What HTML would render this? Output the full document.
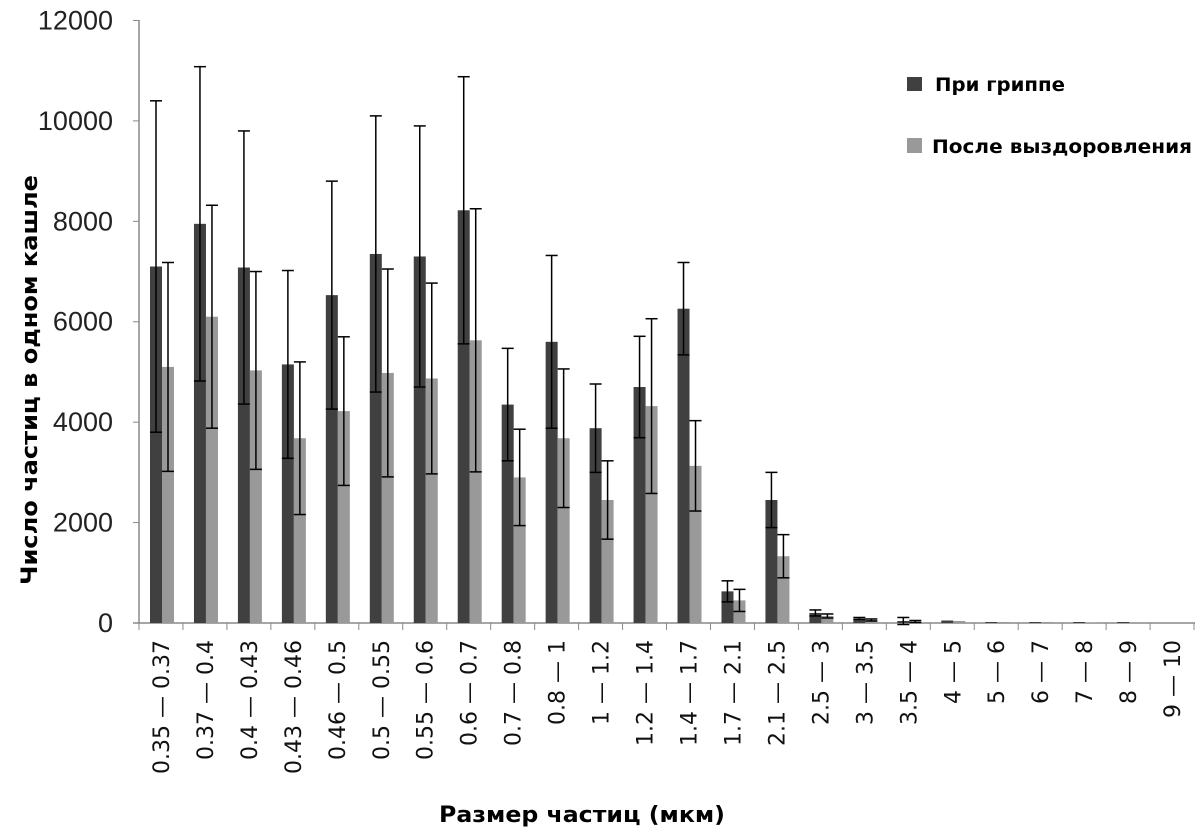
<!DOCTYPE html>
<html><head><meta charset="utf-8"><style>body{margin:0;background:#fff}svg{display:block}</style></head>
<body>
<svg id="s" width="1203" height="835" xmlns="http://www.w3.org/2000/svg" font-family="DejaVu Sans, Liberation Sans, sans-serif"></svg>
<script>
const d=[[7100,3300,5100,2080],[7950,3130,6100,2220],[7080,2720,5030,1970],[5150,1870,3680,1520],[6530,2270,4220,1480],[7350,2750,4980,2070],[7300,2600,4870,1900],[8220,2660,5630,2620],[4350,1120,2900,960],[5600,1720,3680,1380],[3880,880,2450,780],[4700,1010,4320,1740],[6260,920,3130,900],[630,210,450,220],[2450,550,1330,430],[200,60,140,40],[90,20,60,20],[40,70,30,20],[50,0,40,0],[20,0,20,0],[20,0,20,0],[20,0,10,0],[20,0,0,0],[0,0,0,0]];
const L=["0.35 — 0.37","0.37 — 0.4","0.4 — 0.43","0.43 — 0.46","0.46 — 0.5","0.5 — 0.55","0.55 — 0.6","0.6 — 0.7","0.7 — 0.8","0.8 — 1","1 — 1.2","1.2 — 1.4","1.4 — 1.7","1.7 — 2.1","2.1 — 2.5","2.5 — 3","3 — 3.5","3.5 — 4","4 — 5","5 — 6","6 — 7","7 — 8","8 — 9","9 — 10"];
const Y=v=>623-v*0.05021, x0=139, w=43.96;
let s='';
for(let i=0;i<=6;i++){let y=Y(i*2000);s+=`<line x1="133" x2="139" y1="${y}" y2="${y}" stroke="#888"/><text x="113" y="${y+9}" text-anchor="end" font-family="Liberation Sans, sans-serif" font-size="27" fill="#222">${i*2000}</text>`;}
s+=`<line x1="139" x2="139" y1="20" y2="623" stroke="#888" stroke-width="1.5"/><line x1="133" x2="1195" y1="623" y2="623" stroke="#888" stroke-width="1.5"/>`;
d.forEach((r,i)=>{let gx=x0+i*w;
 s+=`<line x1="${gx}" x2="${gx}" y1="623" y2="630" stroke="#888"/>`;
 [[r[0],r[1],gx+11,'#404040'],[r[2],r[3],gx+23,'#999']].forEach(([v,e,bx,c])=>{
  if(v>0)s+=`<rect x="${bx}" y="${Y(v)}" width="12" height="${623-Y(v)}" fill="${c}"/>`;
  if(e>0){let cx=bx+6;s+=`<g stroke="#000" stroke-width="1.5"><line x1="${cx}" x2="${cx}" y1="${Y(v+e)}" y2="${Y(v-e)}"/><line x1="${cx-6}" x2="${cx+6}" y1="${Y(v+e)}" y2="${Y(v+e)}"/><line x1="${cx-6}" x2="${cx+6}" y1="${Y(v-e)}" y2="${Y(v-e)}"/></g>`;}
 });
 let cx=gx+w/2;
 s+=`<text transform="translate(${cx+8},640) rotate(-90)" text-anchor="end" font-size="22" fill="#111">${L[i]}</text>`;
});
s+=`<line x1="1194" x2="1194" y1="623" y2="630" stroke="#888"/>`;
s+=`<rect x="907" y="77" width="15" height="14" fill="#404040"/><text x="935" y="91" font-weight="bold" font-size="19" textLength="130" lengthAdjust="spacingAndGlyphs">При гриппе</text>`;
s+=`<rect x="907" y="138" width="15" height="15" fill="#999"/><text x="932" y="153" font-weight="bold" font-size="19" textLength="260" lengthAdjust="spacingAndGlyphs">После выздоровления</text>`;
s+=`<text transform="translate(37,380) rotate(-90)" text-anchor="middle" font-weight="bold" font-size="22" textLength="410" lengthAdjust="spacingAndGlyphs">Число частиц в одном кашле</text>`;
s+=`<text x="582" y="822" text-anchor="middle" font-weight="bold" font-size="22" textLength="286" lengthAdjust="spacingAndGlyphs">Размер частиц (мкм)</text>`;
document.getElementById('s').innerHTML=s;
</script>
</body></html>
